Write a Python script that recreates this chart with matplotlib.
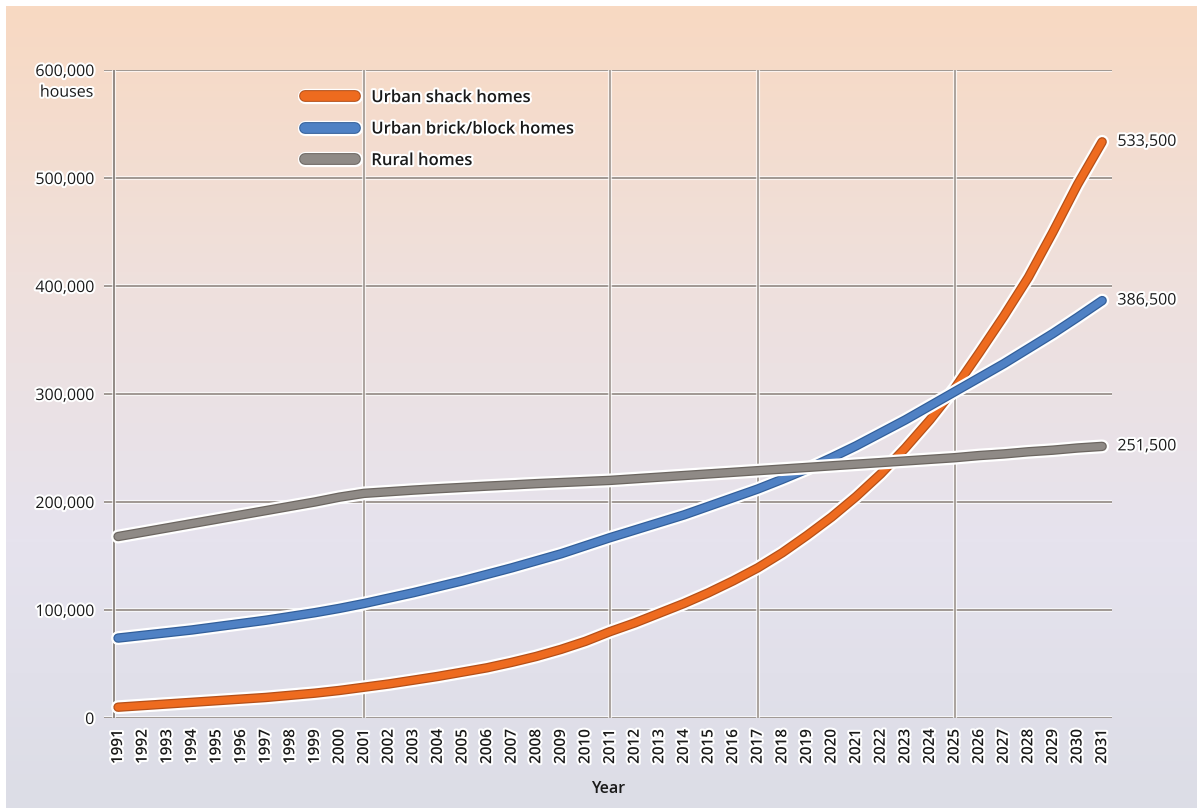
import numpy as np
import matplotlib
matplotlib.use('Agg')
import matplotlib.pyplot as plt
import matplotlib.patheffects as pe
from matplotlib.lines import Line2D
from matplotlib.colors import LinearSegmentedColormap

plt.rcParams['font.family'] = ['Open Sans', 'DejaVu Sans']

# housing stock per year (number of houses)
years = list(range(1991, 2032))
shack = [10000, 11500, 13000, 14500, 16000, 17500, 19000, 21000, 23000, 25500,
         28500, 31500, 35000, 38500, 42500, 46500, 51500, 57000, 63500, 71000,
         80000, 88000, 97000, 106000, 116000, 127000, 139000, 153000, 169000, 186000,
         205000, 226000, 250000, 276000, 305000, 338000, 372000, 408000, 450000, 494000,
         533500]
brick = [74000, 76500, 79000, 81500, 84500, 87500, 90500, 94000, 97500, 101500,
         106000, 111000, 116000, 121500, 127000, 133000, 139000, 145500, 152000, 159500,
         167000, 174000, 181000, 188000, 196000, 204000, 212000, 221000, 230500, 241000,
         252000, 264000, 276000, 289000, 302000, 315000, 328000, 342000, 356000, 371000,
         386500]
rural = [168000, 172000, 176000, 180000, 184000, 188000, 192000, 196000, 200000, 204500,
         208000, 209500, 211000, 212300, 213500, 214700, 215800, 217000, 218000, 219000,
         220000, 221500, 223000, 224500, 226000, 227500, 229000, 230500, 232000, 233500,
         235000, 236500, 238000, 239500, 241000, 243000, 244500, 246500, 248000, 250000,
         251500]

names = ['Urban shack homes', 'Urban brick/block homes', 'Rural homes']
colors = ['#ee6b1f', '#4f81c4', '#8f8a86']
edges = ['#b4501a', '#335f9a', '#6c6661']
grid_years = [2001, 2011, 2017, 2025]

fig = plt.figure(figsize=(11.97, 8.08), dpi=100)

# peach-to-lavender backdrop with a thin white margin on top/left
bg = fig.add_axes([0, 0, 1, 1], zorder=-5)
cmap = LinearSegmentedColormap.from_list('bg', ['#f8d9c2', '#efe0dc', '#e6e3ee', '#dcdde6'])
grad = np.linspace(0, 1, 256).reshape(-1, 1)
bg.imshow(grad, aspect='auto', cmap=cmap, extent=[0.005, 1, 0, 0.992], origin='upper')
bg.set_xlim(0, 1)
bg.set_ylim(0, 1)
bg.axis('off')

ax = fig.add_axes([104 / 1197, 90 / 808, 1008 / 1197, 648 / 808])
ax.set_facecolor('none')

grid_fx = [pe.Stroke(linewidth=3, foreground='white', alpha=0.7), pe.Normal()]
for y in range(0, 600001, 100000):
    ax.axhline(y, color='#99918b', lw=1.3, zorder=1, path_effects=grid_fx)
for x in grid_years:
    ax.axvline(x, color='#a59d97', lw=1.3, zorder=1, path_effects=grid_fx)
ax.axvline(1990.84, color='#8a827d', lw=1.3, zorder=1, path_effects=grid_fx)

handles = []
for vals, name, c, ec in zip([shack, brick, rural], names, colors, edges):
    fx = [pe.Stroke(linewidth=10, foreground='white'),
          pe.Stroke(linewidth=6.8, foreground=ec), pe.Normal()]
    ax.plot(years, vals, color=c, lw=5.0, solid_capstyle='round',
            solid_joinstyle='round', path_effects=fx, zorder=3)
    ax.annotate(f'{vals[-1]:,}', (years[-1], vals[-1]), xytext=(11, 0),
                textcoords='offset points', va='center', ha='left', fontsize=11.5,
                color='#1a1a1a',
                path_effects=[pe.withStroke(linewidth=3, foreground='white')])
    handles.append(Line2D([], [], color=c, lw=7, solid_capstyle='round',
                          path_effects=[pe.Stroke(linewidth=11, foreground='white'),
                                        pe.Stroke(linewidth=8.5, foreground=ec),
                                        pe.Normal()]))

leg = ax.legend(handles, names, loc='upper left', bbox_to_anchor=(0.199, 0.969),
                frameon=False, fontsize=12, handlelength=3.0, handletextpad=1.0,
                labelspacing=0.93, borderpad=0, borderaxespad=0)
for t in leg.get_texts():
    t.set_fontweight('semibold')
    t.set_color('#1a1a1a')
    t.set_path_effects([pe.withStroke(linewidth=3, foreground='white')])

ax.set_xlim(1990.43, 2031.4)
ax.set_ylim(0, 600000)
ax.set_xticks(years)
ax.set_xticklabels([str(y) for y in years], rotation=90, fontsize=11,
                   fontweight='semibold', color='#1a1a1a')
ax.set_yticks(range(0, 600001, 100000))
ax.set_yticklabels([f'{v:,}' for v in range(0, 600001, 100000)], fontsize=11.5,
                   color='#1a1a1a')
ax.tick_params(length=0)
ax.tick_params(axis='y', pad=7)
ax.tick_params(axis='x', pad=8)
for lbl in ax.get_xticklabels() + ax.get_yticklabels():
    lbl.set_path_effects([pe.withStroke(linewidth=3, foreground='white')])
for s in ax.spines.values():
    s.set_visible(False)

ax.text(-0.0105, 0.965, 'houses', transform=ax.transAxes, ha='right', va='center',
        fontsize=11.5, color='#1a1a1a',
        path_effects=[pe.withStroke(linewidth=3, foreground='white')])
ax.set_xlabel('Year', fontsize=11.5, fontweight='semibold', color='#1a1a1a', labelpad=12)

fig.savefig('out.png', dpi=100)
